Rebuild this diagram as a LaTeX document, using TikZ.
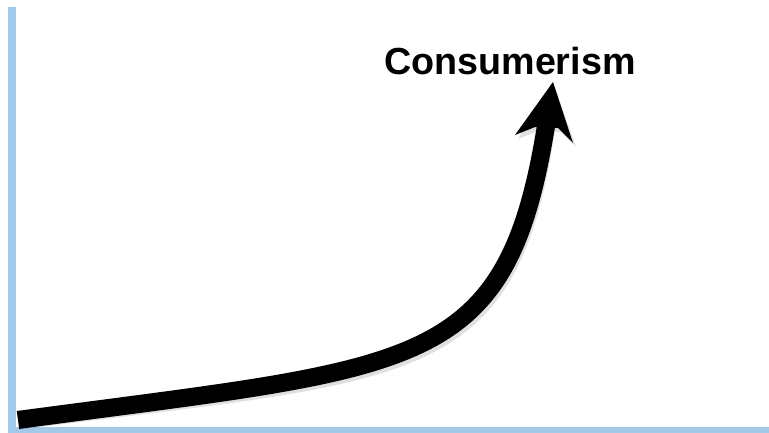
\documentclass[tikz,border=0pt]{standalone}
\usepackage{fontspec}
\setmainfont{Liberation Sans}
\definecolor{axisblue}{RGB}{163,201,233}
\begin{document}
\begin{tikzpicture}[x=1pt,y=-1pt,
  axis/.style={fill=axisblue,draw=none},
  trend/.style={line width=18pt,line cap=butt,draw=black},
  shadowline/.style={line width=19pt,draw=black,opacity=0.12},
  lbl/.style={font=\bfseries\fontsize{37.7}{40}\selectfont,inner sep=0pt,anchor=base west}]
\useasboundingbox (0,0) rectangle (769,433);
\fill[white] (0,0) rectangle (769,433);
% axes
\fill[axis] (8,7) rectangle (16,433);
\fill[axis] (8,427) rectangle (769,433);
% label
\node[lbl] (title) at (384,75) {Consumerism};
% coordinates of the trend curve
\coordinate (start) at (18,420);
\coordinate (shaftend) at (546,126);
\coordinate (tip) at (553,82);
% soft shadow
\begin{scope}[shift={(3,4)}]
\draw[shadowline] (start) .. controls (418,366) and (506,374) .. (shaftend);
\fill[black,opacity=0.12] (tip) -- (573,143) -- (558,128) -- (535,127) -- (515,135) -- cycle;
\end{scope}
% trend arrow
\draw[trend] (start) .. controls (418,366) and (506,374) .. (shaftend);
\fill[black] (tip) -- (573,143) -- (558,128) -- (535,127) -- (515,135) -- cycle;
\end{tikzpicture}
\end{document}
